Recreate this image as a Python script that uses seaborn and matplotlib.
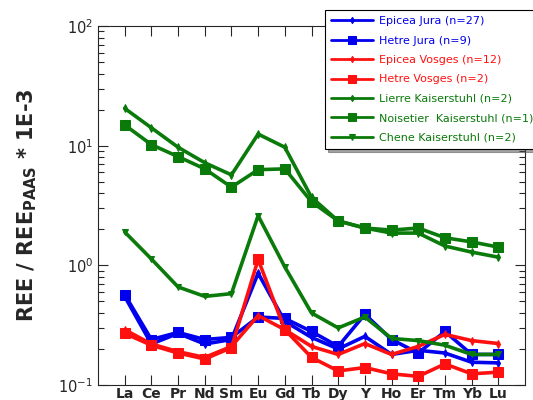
import numpy as np
import pandas as pd
import matplotlib
matplotlib.use("Agg")
import matplotlib.pyplot as plt
import seaborn as sns

elements = ["La", "Ce", "Pr", "Nd", "Sm", "Eu", "Gd", "Tb", "Dy", "Y", "Ho", "Er", "Tm", "Yb", "Lu"]

epicea_jura = [0.55, 0.22, 0.27, 0.22, 0.24, 0.86, 0.34, 0.25, 0.20, 0.255, 0.18, 0.195, 0.185, 0.155, 0.153]
hetre_jura = [0.57, 0.24, 0.275, 0.24, 0.25, 0.37, 0.36, 0.28, 0.21, 0.39, 0.24, 0.185, 0.28, 0.18, 0.18]
epicea_vosges = [0.29, 0.22, 0.19, 0.17, 0.21, 0.38, 0.29, 0.21, 0.18, 0.222, 0.18, 0.21, 0.265, 0.235, 0.222]
hetre_vosges = [0.27, 0.215, 0.185, 0.165, 0.205, 1.12, 0.29, 0.17, 0.131, 0.14, 0.124, 0.118, 0.15, 0.124, 0.128]
lierre_kaiser = [20.5, 14.1, 9.7, 7.2, 5.7, 12.5, 9.7, 3.7, 2.35, 2.05, 1.86, 1.86, 1.45, 1.29, 1.17]
noisetier_kaiser = [14.9, 10.2, 8.1, 6.4, 4.5, 6.3, 6.4, 3.4, 2.35, 2.05, 1.97, 2.05, 1.7, 1.57, 1.42]
chene_kaiser = [1.9, 1.13, 0.66, 0.55, 0.58, 2.6, 0.97, 0.40, 0.30, 0.37, 0.245, 0.235, 0.215, 0.18, 0.18]

labels = ["Epicea Jura (n=27)", "Hetre Jura (n=9)", "Epicea Vosges (n=12)", "Hetre Vosges (n=2)",
          "Lierre Kaiserstuhl (n=2)", "Noisetier  Kaiserstuhl (n=1)", "Chene Kaiserstuhl (n=2)"]
series = [epicea_jura, hetre_jura, epicea_vosges, hetre_vosges, lierre_kaiser, noisetier_kaiser, chene_kaiser]
colors = ["#0000ee", "#0000ee", "#ff1010", "#ff1010", "#0a7a0a", "#0a7a0a", "#0a7a0a"]
markers = ["d", "s", "d", "s", "d", "s", "v"]
msizes = [4, 7, 4, 7, 4, 7, 5]

sns.set_style("ticks")
plt.rcParams["font.family"] = ["DejaVu Sans"]

fig = plt.figure(figsize=(5.33, 4.0), dpi=100)
ax = fig.add_axes([98 / 533, 15 / 400, 427 / 533, 359 / 400])

x = np.arange(len(elements))
for lab, vals, c, m, ms in zip(labels, series, colors, markers, msizes):
    df = pd.DataFrame({"x": x, "y": vals})
    sns.lineplot(data=df, x="x", y="y", ax=ax, color=c, marker=m, markersize=ms,
                 markeredgecolor=c, lw=2.6, label=lab, sort=False)

ax.set_yscale("log")
ax.set_ylim(0.1, 100)
ax.set_xlim(-1, 15)
ax.set_xticks(x)
ax.set_xticklabels(elements, fontsize=10, fontweight="bold")
ax.set_xlabel("")
ax.set_ylabel("REE / REE$_{\\mathbf{PAAS}}$ * 1E-3", fontsize=15, fontweight="bold", labelpad=14)
ax.tick_params(axis="both", which="major", direction="in", length=7, width=0.8,
               top=True, right=True, labelsize=10.5)
ax.tick_params(axis="y", which="minor", direction="in", length=4, width=0.8, right=True, left=True)
ax.tick_params(axis="x", which="major", pad=1.5, labelsize=10)
for s in ax.spines.values():
    s.set_linewidth(0.8)

leg = ax.legend(loc="upper left", bbox_to_anchor=(325 / 533, 1 - 10 / 400),
                bbox_transform=fig.transFigure, fontsize=8, frameon=True, fancybox=False,
                shadow=True, handlelength=3.8, labelspacing=0.85, borderaxespad=0,
                borderpad=0.55, handletextpad=0.5, markerscale=0.8)
leg.get_frame().set_edgecolor("black")
leg.get_frame().set_linewidth(0.8)
for txt, c in zip(leg.get_texts(), colors):
    txt.set_color(c)
for line in leg.get_lines():
    line.set_linewidth(2)

fig.savefig("out.png", dpi=100)
